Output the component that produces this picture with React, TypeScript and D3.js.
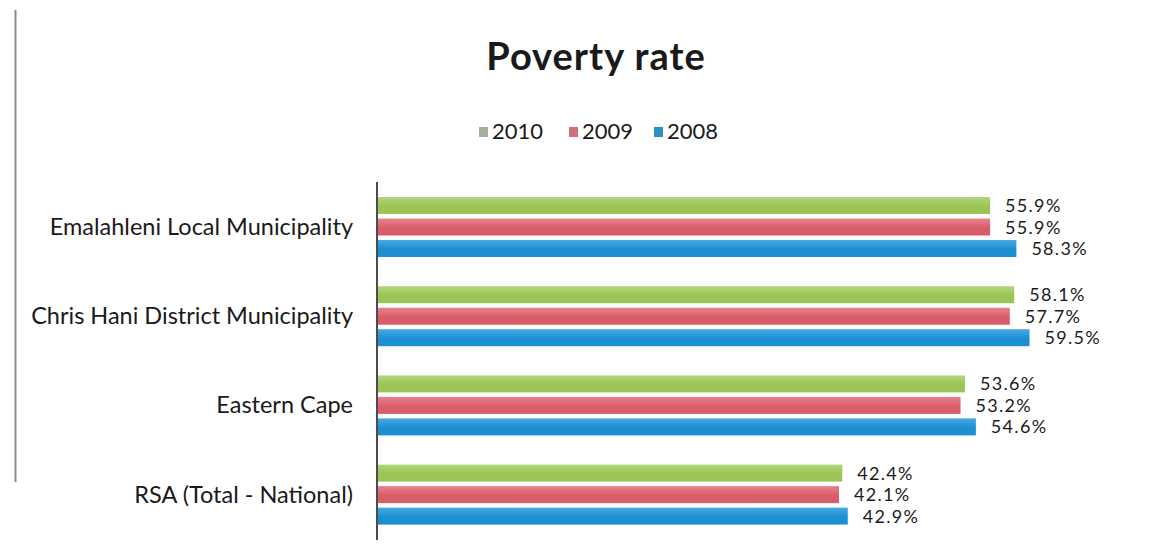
import React from "react";
import * as d3 from "d3";

const categories = [
  "Emalahleni Local Municipality",
  "Chris Hani District Municipality",
  "Eastern Cape",
  "RSA (Total - National)",
];
const seriesNames = ["2010", "2009", "2008"];
const values2010 = [55.9, 58.1, 53.6, 42.4];
const values2009 = [55.9, 57.7, 53.2, 42.1];
const values2008 = [58.3, 59.5, 54.6, 42.9];
const seriesValues = [values2010, values2009, values2008];
const seriesColors = ["#9cc355", "#d85d69", "#1c8fd2"];
const seriesLight = ["#b3d57a", "#e7838d", "#47a9e2"];
const legendMarkerColors = ["#a5ad9c", "#d0707d", "#2f8fc7"];
const title = "Poverty rate";

const W = 1171;
const H = 559;
const FONT = "Lato, 'Open Sans', sans-serif";

export default function App() {
  const x = d3.scaleLinear().domain([0, 60]).range([378, 1035]);
  const y = d3.scaleBand<string>().domain(categories).range([182.4, 539.2]).padding(0);
  const inner = d3
    .scaleBand<string>()
    .domain(seriesNames)
    .range([-32.25, 32.25])
    .paddingInner(0.21)
    .paddingOuter(0.105);

  const legendX = [479, 569, 654];

  return (
    <div style={{ position: "absolute", left: 0, top: 0, width: W, height: H, background: "#fff" }}>
      <svg width={W} height={H} style={{ display: "block" }}>
        <defs>
          {seriesNames.map((s, i) => (
            <linearGradient key={s} id={`g${i}`} x1="0" y1="0" x2="0" y2="1">
              <stop offset="0%" stopColor={seriesLight[i]} />
              <stop offset="55%" stopColor={seriesColors[i]} />
              <stop offset="100%" stopColor={seriesColors[i]} />
            </linearGradient>
          ))}
        </defs>
        <rect x={0} y={0} width={W} height={H} fill="#ffffff" />
        {/* page border line on the left */}
        <line x1={15.5} x2={15.5} y1={10} y2={482} stroke="#8a8a8a" strokeWidth={2} />

        <text
          x={596}
          y={70}
          textAnchor="middle"
          fontFamily={FONT}
          fontWeight={700}
          fontSize={38}
          letterSpacing={1}
          fill="#1a1a1a"
        >
          {title}
        </text>

        {seriesNames.map((s, i) => (
          <g key={s}>
            <rect x={legendX[i]} y={127} width={9} height={10} fill={legendMarkerColors[i]} />
            <text
              x={legendX[i] + 13}
              y={139}
              fontFamily={FONT}
              fontSize={22}
              fill="#1a1a1a"
            >
              {s}
            </text>
          </g>
        ))}

        {categories.map((c, ci) => {
          const cy = (y(c) ?? 0) + y.bandwidth() / 2;
          return (
            <g key={c}>
              <text
                x={353}
                y={cy + 8}
                textAnchor="end"
                fontFamily={FONT}
                fontSize={23.5}
                fill="#1a1a1a"
              >
                {c}
              </text>
              {seriesNames.map((s, si) => {
                const v = seriesValues[si][ci];
                const by = cy + (inner(s) ?? 0);
                return (
                  <g key={s}>
                    <rect
                      x={x(0)}
                      y={by}
                      width={x(v) - x(0)}
                      height={inner.bandwidth()}
                      fill={`url(#g${si})`}
                    />
                    <text
                      x={x(v) + 15}
                      y={by + inner.bandwidth() / 2 + 6.5}
                      fontFamily={FONT}
                      fontSize={18}
                      letterSpacing={1.3}
                      fill="#1a1a1a"
                    >
                      {v.toFixed(1)}%
                    </text>
                  </g>
                );
              })}
            </g>
          );
        })}

        <line x1={377} x2={377} y1={182} y2={540} stroke="#111" strokeWidth={1.5} />
      </svg>
    </div>
  );
}
